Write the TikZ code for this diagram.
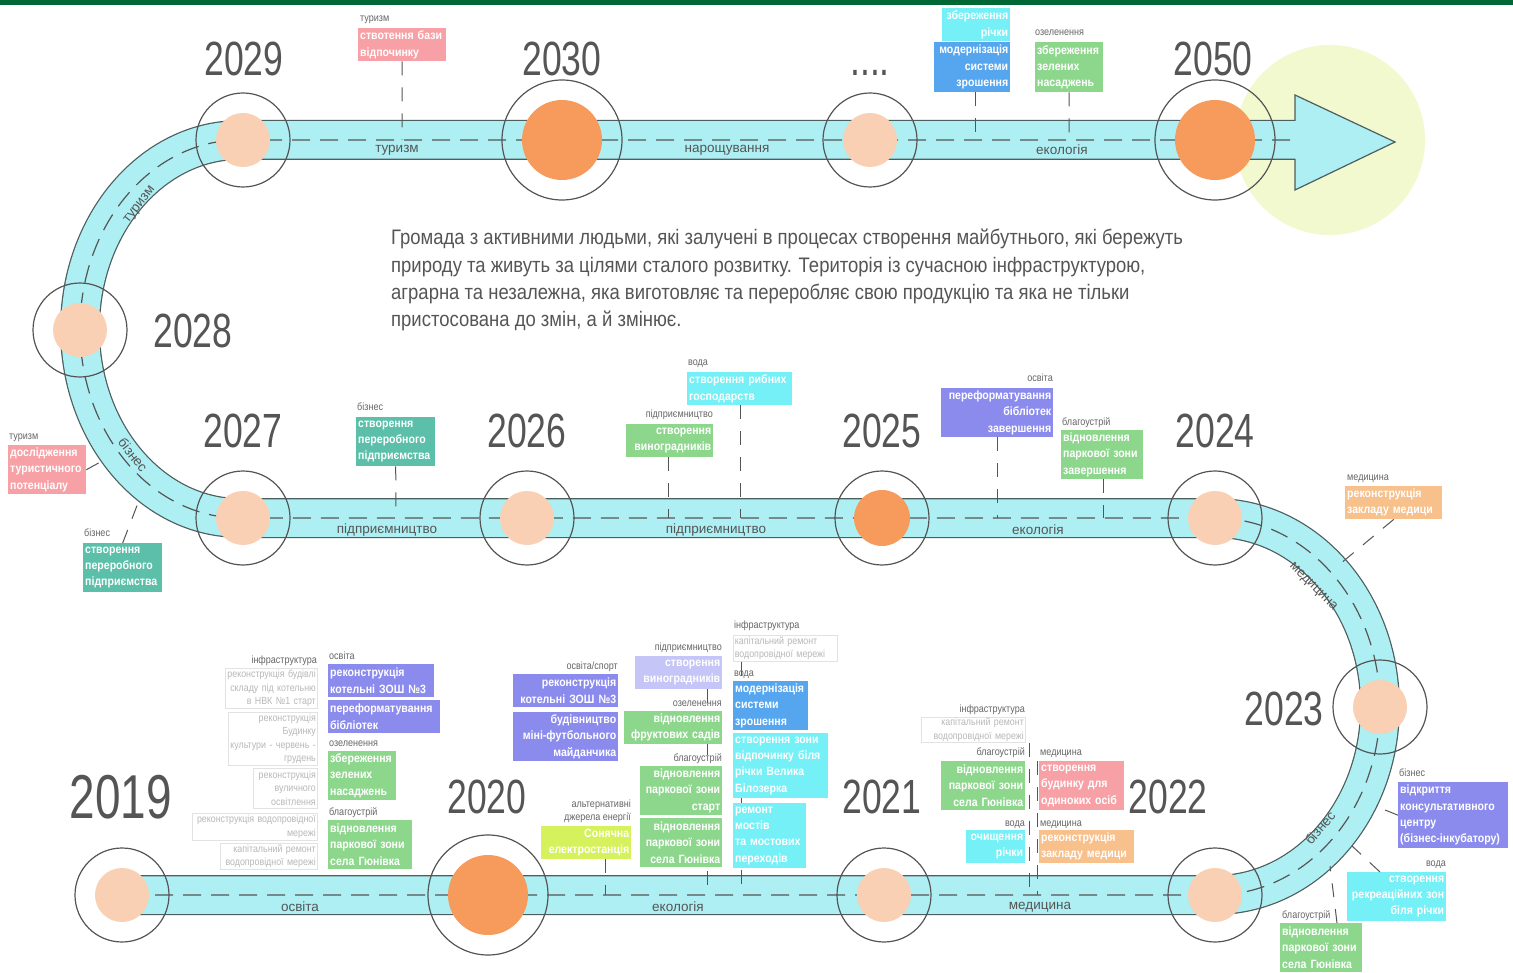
\documentclass[tikz,border=0pt]{standalone}
\usepackage{fontspec}
\setmainfont{Liberation Sans}
\newfontfamily\yearf[FakeStretch=0.74]{Liberation Sans}
\newfontfamily\paraf[FakeStretch=0.88]{Liberation Sans}
\newfontfamily\catf[FakeStretch=0.86]{Liberation Sans}
\newfontfamily\boxf[FakeStretch=0.88]{Liberation Sans}
\newcommand\lnL[1]{\makebox[\hsize][l]{#1}}
\newcommand\lnR[1]{\makebox[\hsize][r]{#1}}
\usetikzlibrary{calc}
\definecolor{bandfill}{HTML}{AEEFF4}
\definecolor{bandedge}{HTML}{4D5E5E}
\definecolor{txtgray}{HTML}{555555}
\definecolor{lblgray}{HTML}{666666}
\definecolor{cpink}{HTML}{F7A1A6}
\definecolor{cteal}{HTML}{5BBFA9}
\definecolor{ccyan}{HTML}{74F0F6}
\definecolor{cblue}{HTML}{55A6EE}
\definecolor{cgreen}{HTML}{8DD78D}
\definecolor{cpurple}{HTML}{8B8BEE}
\definecolor{clpurple}{HTML}{C5C5F7}
\definecolor{corange}{HTML}{F8C08B}
\definecolor{clime}{HTML}{D5F25C}
\definecolor{cpeach}{HTML}{F9D0B3}
\definecolor{cdorange}{HTML}{F79B5C}
\definecolor{cpale}{HTML}{F2F9CF}
\definecolor{topgreen}{HTML}{006633}
\definecolor{fainttext}{HTML}{B8B8B8}
\definecolor{faintline}{HTML}{E2E2E2}
\definecolor{conncol}{HTML}{555555}
\def\bandpath{(1296,140) -- (240,140) .. controls (151.6,140) and (80,224.6) .. (80,329) .. controls (80,433.4) and (151.6,518) .. (240,518) -- (1215,518) .. controls (1306.1,518) and (1380,602.4) .. (1380,706.5) .. controls (1380,810.6) and (1306.1,895) .. (1215,895) -- (122,895)}
\begin{document}
\begin{tikzpicture}[x=1pt,y=-1pt,
  ring/.style={circle, draw=txtgray, line width=1.2pt, minimum size=#1, inner sep=0pt},
  dot/.style={circle, fill=#1, inner sep=0pt},
  year/.style={font=\yearf\fontsize{48}{48}\selectfont, text=txtgray, anchor=base, inner sep=0pt},
  bandlbl/.style={font=\fontsize{13.5}{14}\selectfont, text=txtgray, inner sep=0pt},
  cat/.style={font=\catf\fontsize{10.5}{12}\selectfont, text=lblgray, inner sep=0pt},
  bx/.style={anchor=north west, fill=#1, text=white, font=\boxf\bfseries\fontsize{12}{16.3}\selectfont, inner xsep=2pt, inner ysep=0pt, align=left},
  fb/.style={anchor=north west, draw=faintline, line width=0.6pt, text=fainttext, font=\catf\fontsize{10.3}{13.3}\selectfont, inner xsep=1.5pt, inner ysep=0pt, align=left},
  conn/.style={draw=conncol, line width=1pt, dash pattern=on 14pt off 12pt},
  para/.style={font=\paraf\fontsize{21}{27.3}\selectfont, text=txtgray, align=left, inner sep=0pt, anchor=north west}]
\useasboundingbox (0,0) rectangle (1513,973);
\fill[white] (0,0) rectangle (1513,973);
\fill[topgreen] (0,0) rectangle (1513,5);
% pale goal circle
\node[dot=cpale, minimum size=190pt] (goal) at (1330,140) {};
% band
\draw[bandedge, line width=40pt] \bandpath;
\draw[bandfill, line width=37.5pt] \bandpath;
\fill[bandfill] (1295,95) -- (1395,142) -- (1295,190) -- cycle;
\draw[bandedge, line width=1.2pt, line join=miter] (1295,121) -- (1295,95) -- (1395,142) -- (1295,190) -- (1295,159);
\draw[txtgray, line width=1.2pt, dash pattern=on 18pt off 10pt] (1290,140) -- (240,140) .. controls (151.6,140) and (80,224.6) .. (80,329) .. controls (80,433.4) and (151.6,518) .. (240,518) -- (1215,518) .. controls (1306.1,518) and (1380,602.4) .. (1380,706.5) .. controls (1380,810.6) and (1306.1,895) .. (1215,895) -- (122,895);
% band coordinates for connectors
\coordinate (t1) at (402,140);
\coordinate (t3) at (975,140);
\coordinate (t4) at (1069,140);
\coordinate (k5) at (104,460);
\coordinate (k6) at (138,503);
\coordinate (k7) at (396,518);
\coordinate (k8) at (740,518);
\coordinate (k9) at (668,518);
\coordinate (k10) at (997,518);
\coordinate (k11) at (1103,518);
\coordinate (k12) at (1340,564);
\coordinate (k19) at (605,895);
\coordinate (k20) at (707,895);
\coordinate (k24) at (741,895);
\coordinate (k27) at (1029,895);
\coordinate (k29) at (1037,895);
\coordinate (k31) at (1375,806);
\coordinate (k32) at (1352,846);
\coordinate (k33) at (1330,866);
% year circles
\node[ring=94pt] (c2029) at (243,140) {};
\node[dot=cpeach, minimum size=54pt] at (c2029) {};
\node[ring=120pt] (c2030) at (562,140) {};
\node[dot=cdorange, minimum size=80pt] at (c2030) {};
\node[ring=94pt] (cdots) at (870,140) {};
\node[dot=cpeach, minimum size=54pt] at (cdots) {};
\node[ring=120pt] (c2050) at (1215,140) {};
\node[dot=cdorange, minimum size=80pt] at (c2050) {};
\node[ring=94pt] (c2028) at (80,330) {};
\node[dot=cpeach, minimum size=54pt] at (c2028) {};
\node[ring=94pt] (c2027) at (243,518) {};
\node[dot=cpeach, minimum size=54pt] at (c2027) {};
\node[ring=94pt] (c2026) at (527,518) {};
\node[dot=cpeach, minimum size=54pt] at (c2026) {};
\node[ring=94pt] (c2025) at (882,518) {};
\node[dot=cdorange, minimum size=56pt] at (c2025) {};
\node[ring=94pt] (c2024) at (1215,518) {};
\node[dot=cpeach, minimum size=54pt] at (c2024) {};
\node[ring=94pt] (c2023) at (1380,707) {};
\node[dot=cpeach, minimum size=54pt] at (c2023) {};
\node[ring=94pt] (c2022) at (1215,895) {};
\node[dot=cpeach, minimum size=54pt] at (c2022) {};
\node[ring=94pt] (c2021) at (884,895) {};
\node[dot=cpeach, minimum size=54pt] at (c2021) {};
\node[ring=120pt] (c2020) at (488,895) {};
\node[dot=cdorange, minimum size=80pt] at (c2020) {};
\node[ring=94pt] (c2019) at (122,895) {};
\node[dot=cpeach, minimum size=54pt] at (c2019) {};
% year labels
\node[year] (y2029) at (244,76) {2029};
\node[year] (y2030) at (562,76) {2030};
\node[year] (ydots) at (870,76) {....};
\node[year] (y2050) at (1213,76) {2050};
\node[year] (y2028) at (193,348) {2028};
\node[year] (y2027) at (243,448) {2027};
\node[year] (y2026) at (527,448) {2026};
\node[year] (y2025) at (882,448) {2025};
\node[year] (y2024) at (1215,448) {2024};
\node[year] (y2023) at (1284,725) {2023};
\node[year] (y2022) at (1168,813) {2022};
\node[year] (y2021) at (882,813) {2021};
\node[year] (y2020) at (487,813) {2020};
\node[year, font=\yearf\fontsize{62}{62}\selectfont] (y2019) at (121,818) {2019};
% band labels
\node[bandlbl] at (397,150) {туризм};
\node[bandlbl] at (727,150) {нарощування};
\node[bandlbl] at (1062,150) {екологія};
\node[bandlbl] at (387,530) {підприємництво};
\node[bandlbl] at (716,530) {підприємництво};
\node[bandlbl] at (1038,530) {екологія};
\node[bandlbl] at (300,907) {освіта};
\node[bandlbl] at (678,907) {екологія};
\node[bandlbl] at (1040,907) {медицина};
\node[bandlbl, rotate=52] at (140,205) {туризм};
\node[bandlbl, rotate=-52] at (133,455) {бізнес};
\node[bandlbl, rotate=-45] at (1313,587) {медицина};
\node[bandlbl, rotate=50] at (1320,828) {бізнес};
% description
\node[para] (desc) at (391,229) {Громада з активними людьми, які залучені в процесах створення майбутнього, які бережуть\\природу та живуть за цілями сталого розвитку. Територія із сучасною інфраструктурою,\\аграрна та незалежна, яка виготовляє та переробляє свою продукцію та яка не тільки\\пристосована до змін, а й змінює.};
% ---------- boxes ----------
% top row
\node[bx=cpink, text width=84pt, minimum height=33pt] (b1) at (358,28) {\lnL{ствотення бази}\\\lnL{відпочинку}};
\node[bx=ccyan, text width=64pt, minimum height=33pt] (b2) at (942,8) {\lnR{збереження}\\\lnR{річки}};
\node[bx=cblue, text width=72pt, minimum height=50pt] (b3) at (934,42) {\lnR{модернізація}\\\lnR{системи}\\\lnR{зрошення}};
\node[bx=cgreen, text width=64pt, minimum height=50pt] (b4) at (1035,42) {\lnL{збереження}\\\lnL{зелених}\\\lnL{насаджень}};
% middle row
\node[bx=cpink, text width=74pt, minimum height=49pt] (b5) at (8,445) {\lnL{дослідження}\\\lnL{туристичного}\\\lnL{потенціалу}};
\node[bx=cteal, text width=75pt, minimum height=49pt] (b6) at (83,543) {\lnL{створення}\\\lnL{переробного}\\\lnL{підприємства}};
\node[bx=cteal, text width=75pt, minimum height=49pt] (b7) at (356,417) {\lnL{створення}\\\lnL{переробного}\\\lnL{підприємства}};
\node[bx=ccyan, text width=101pt, minimum height=33pt] (b8) at (687,372) {\lnL{створення рибних}\\\lnL{господарств}};
\node[bx=cgreen, text width=83pt, minimum height=33pt] (b9) at (626,424) {\lnR{створення}\\\lnR{виноградників}};
\node[bx=cpurple, text width=108pt, minimum height=49pt] (b10) at (941,388) {\lnR{переформатування}\\\lnR{бібліотек}\\\lnR{завершення}};
\node[bx=cgreen, text width=78pt, minimum height=49pt] (b11) at (1061,430) {\lnL{відновлення}\\\lnL{паркової зони}\\\lnL{завершення}};
\node[bx=corange, text width=93pt, minimum height=33pt] (b12) at (1345,486) {\lnL{реконструкція}\\\lnL{закладу медици}};
% bottom faint boxes
\node[fb, text width=89pt, minimum height=40pt] (f1) at (225,668) {\lnR{реконструкція будівлі}\\\lnR{складу під котельню}\\\lnR{в НВК №1 старт}};
\node[fb, text width=86pt, minimum height=53pt] (f2) at (228,712) {\lnR{реконструкція}\\\lnR{Будинку}\\\lnR{культури - червень -}\\\lnR{грудень}};
\node[fb, text width=61pt, minimum height=40pt] (f3) at (253,768) {\lnR{реконструкція}\\\lnR{вуличного}\\\lnR{освітлення}};
\node[fb, text width=122pt, minimum height=27pt] (f4) at (192,813) {\lnR{реконструкція водопровідної}\\\lnR{мережі}};
\node[fb, text width=94pt, minimum height=26pt] (f5) at (220,843) {\lnR{капітальний ремонт}\\\lnR{водопровідної мережі}};
\node[fb, text width=101pt, minimum height=26pt] (f6) at (733,635) {\lnL{капітальний ремонт}\\\lnL{водопровідної мережі}};
\node[fb, text width=101pt, minimum height=25pt] (f7) at (921,717) {\lnR{капітальний ремонт}\\\lnR{водопровідної мережі}};
% connectors
\draw[conn] (b1.south) -- (t1);
\draw[conn] (b3.south -| t3) -- (t3);
\draw[conn] (b4.south) -- (t4);
\draw[conn] (b5.east) -- (k5);
\draw[conn] (b6.north) -- (k6);
\draw[conn] (b7.south) -- (k7);
\draw[conn] (b8.south -| k8) -- (k8);
\draw[conn] (b9.south -| k9) -- (k9);
\draw[conn] (b10.south -| k10) -- (k10);
\draw[conn] (b11.south -| k11) -- (k11);
\draw[conn] (b12.south) -- (k12);
% bottom left
\node[bx=cpurple, text width=102pt, minimum height=33pt] (b13) at (328,664) {\lnL{реконструкція}\\\lnL{котельні ЗОШ №3}};
\node[bx=cpurple, text width=108pt, minimum height=33pt] (b14) at (328,700) {\lnL{переформатування}\\\lnL{бібліотек}};
\node[bx=cgreen, text width=64pt, minimum height=49pt] (b15) at (328,751) {\lnL{збереження}\\\lnL{зелених}\\\lnL{насаджень}};
\node[bx=cgreen, text width=80pt, minimum height=49pt] (b16) at (328,820) {\lnL{відновлення}\\\lnL{паркової зони}\\\lnL{села Гюнівка}};
% bottom middle
\node[bx=cpurple, text width=101pt, minimum height=33pt] (b17) at (513,674) {\lnR{реконструкція}\\\lnR{котельні ЗОШ №3}};
\node[bx=cpurple, text width=101pt, minimum height=49pt] (b18) at (513,712) {\lnR{будівництво}\\\lnR{міні-футбольного}\\\lnR{майданчика}};
\node[bx=clime, text width=86pt, minimum height=33pt] (b19) at (541,826) {\lnR{Сонячна}\\\lnR{електростанція}};
\node[bx=clpurple, text width=83pt, minimum height=33pt] (b20) at (635,656) {\lnR{створення}\\\lnR{виноградників}};
\draw[conn] (b19.south -| k19) -- (k19);
\draw[conn] (b20.south -| k20) -- (k20);
\draw[conn] (f6.south -| k24) -- (k24);
\draw[conn] (f7.south -| k27) -- (k27);
\node[bx=cgreen, text width=94pt, minimum height=33pt] (b21) at (624,711) {\lnR{відновлення}\\\lnR{фруктових садів}};
\node[bx=cgreen, text width=78pt, minimum height=49pt] (b22) at (640,766) {\lnR{відновлення}\\\lnR{паркової зони}\\\lnR{старт}};
\node[bx=cgreen, text width=78pt, minimum height=49pt] (b23) at (640,818) {\lnR{відновлення}\\\lnR{паркової зони}\\\lnR{села Гюнівка}};
\node[bx=cblue, text width=71pt, minimum height=49pt] (b24) at (733,681) {\lnL{модернізація}\\\lnL{системи}\\\lnL{зрошення}};
\node[bx=ccyan, text width=91pt, minimum height=65pt] (b25) at (733,733) {\lnL{створення зони}\\\lnL{відпочинку біля}\\\lnL{річки Велика}\\\lnL{Білозерка}};
\node[bx=ccyan, text width=69pt, minimum height=65pt] (b26) at (733,803) {\lnL{ремонт}\\\lnL{мостів}\\\lnL{та мостових}\\\lnL{переходів}};
% bottom right
\node[bx=cgreen, text width=80pt, minimum height=49pt] (b27) at (941,761) {\lnR{відновлення}\\\lnR{паркової зони}\\\lnR{села Гюнівка}};
\node[bx=ccyan, text width=55pt, minimum height=33pt] (b28) at (966,830) {\lnR{очищення}\\\lnR{річки}};
\node[bx=cpink, text width=81pt, minimum height=49pt] (b29) at (1039,761) {\lnL{створення}\\\lnL{будинку для}\\\lnL{одиноких осіб}};
\draw[conn] (b29.north -| k29) -- (k29);
\node[bx=corange, text width=91pt, minimum height=33pt] (b30) at (1039,830) {\lnL{реконструкція}\\\lnL{закладу медици}};
% far right
\node[bx=cpurple, text width=106pt, minimum height=66pt] (b31) at (1398,782) {\lnL{відкриття}\\\lnL{консультативного}\\\lnL{центру}\\\lnL{(бізнес-інкубатору)}};
\node[bx=ccyan, text width=95pt, minimum height=49pt] (b32) at (1347,872) {\lnR{створення}\\\lnR{рекреаційних зон}\\\lnR{біля річки}};
\node[bx=cgreen, text width=78pt, minimum height=49pt] (b33) at (1280,923) {\lnL{відновлення}\\\lnL{паркової зони}\\\lnL{села Гюнівка}};
\draw[conn] (b31.west) -- (k31);
\draw[conn] ($(b32.north west)+(33,0)$) -- (k32);
\draw[conn] ($(b33.north west)+(57,0)$) -- (k33);
% ---------- category labels ----------
\node[cat, anchor=base west] at (360,22) {туризм};
\node[cat, anchor=base west] at (1035,36) {озеленення};
\node[cat, anchor=base west] at (9,439) {туризм};
\node[cat, anchor=base west] at (84,536) {бізнес};
\node[cat, anchor=base west] at (357,411) {бізнес};
\node[cat, anchor=base west] at (688,366) {вода};
\node[cat, anchor=base east] at (713,418) {підприємництво};
\node[cat, anchor=base east] at (1053,382) {освіта};
\node[cat, anchor=base west] at (1062,425) {благоустрій};
\node[cat, anchor=base west] at (1347,480) {медицина};
\node[cat, anchor=base east] at (317,663) {інфраструктура};
\node[cat, anchor=base west] at (329,659) {освіта};
\node[cat, anchor=base west] at (329,746) {озеленення};
\node[cat, anchor=base west] at (329,815) {благоустрій};
\node[cat, anchor=base east] at (618,669) {освіта/спорт};
\node[cat, anchor=base east] at (631,807) {альтернативні};
\node[cat, anchor=base east] at (631,820) {джерела енергії};
\node[cat, anchor=base east] at (722,650) {підприємництво};
\node[cat, anchor=base east] at (722,706) {озеленення};
\node[cat, anchor=base east] at (722,761) {благоустрій};
\node[cat, anchor=base west] at (734,628) {інфраструктура};
\node[cat, anchor=base west] at (734,676) {вода};
\node[cat, anchor=base east] at (1025,712) {інфраструктура};
\node[cat, anchor=base east] at (1025,755) {благоустрій};
\node[cat, anchor=base east] at (1025,826) {вода};
\node[cat, anchor=base west] at (1040,755) {медицина};
\node[cat, anchor=base west] at (1040,826) {медицина};
\node[cat, anchor=base west] at (1399,776) {бізнес};
\node[cat, anchor=base east] at (1446,866) {вода};
\node[cat, anchor=base west] at (1282,918) {благоустрій};
\end{tikzpicture}
\end{document}
